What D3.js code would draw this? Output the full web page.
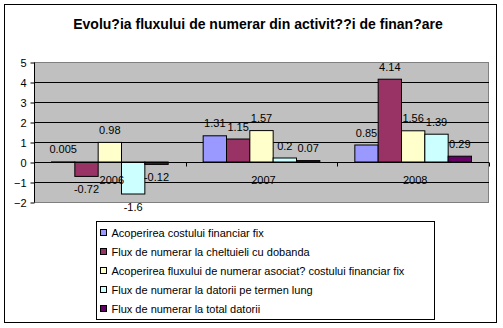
<!DOCTYPE html>
<html>
<head>
<meta charset="utf-8">
<script src="https://cdn.jsdelivr.net/npm/d3@7"></script>
<style>
  html, body { margin: 0; padding: 0; background: #ffffff; }
  svg { display: block; font-family: Arial, "Liberation Sans", sans-serif; }
</style>
</head>
<body>
<svg id="chart" width="503" height="328"></svg>
<script>
// Chart data
const years = ["2006", "2007", "2008"];
const seriesNames = [
  "Acoperirea costului financiar fix",
  "Flux de numerar la cheltuieli cu dobanda",
  "Acoperirea fluxului de numerar asociat? costului financiar fix",
  "Flux de numerar la datorii pe termen lung",
  "Flux de numerar la total datorii"
];
const acoperireCost = [0.005, 1.31, 0.85];
const fluxDobanda = [-0.72, 1.15, 4.14];
const acoperireFlux = [0.98, 1.57, 1.56];
const fluxTermenLung = [-1.6, 0.2, 1.39];
const fluxTotal = [-0.12, 0.07, 0.29];
const seriesColors = ["#9999FF", "#993366", "#FFFFCC", "#CCFFFF", "#660066"];
const yTicks = [-2, -1, 0, 1, 2, 3, 4, 5];
const chartTitle = "Evolu?ia fluxului de numerar din activit??i de finan?are";

const seriesValues = [acoperireCost, fluxDobanda, acoperireFlux, fluxTermenLung, fluxTotal];

const svg = d3.select("#chart");

// Outer chart frame
svg.append("rect")
  .attr("x", 4.5).attr("y", 4.5)
  .attr("width", 492).attr("height", 318)
  .attr("fill", "#ffffff").attr("stroke", "#000000").attr("stroke-width", 1);

// Title
svg.append("text")
  .attr("x", 258).attr("y", 29)
  .attr("text-anchor", "middle")
  .attr("font-size", 14).attr("font-weight", "bold")
  .text(chartTitle);

// Plot area
const plot = { left: 34, right: 489, top: 62, bottom: 202 };

const y = d3.scaleLinear().domain([-2, 5]).range([plot.bottom, plot.top]);
const x0 = d3.scaleBand().domain(years).range([plot.left, plot.right]).paddingInner(0).paddingOuter(0);
// Gap of 150% of a bar width split around each group of five bars
const groupW = x0.bandwidth();
const barW = groupW / 6.5;
const x1 = d3.scaleBand().domain(d3.range(seriesNames.length))
  .range([0.75 * barW, groupW - 0.75 * barW]).padding(0);

svg.append("rect")
  .attr("x", plot.left + 0.5).attr("y", plot.top + 0.5)
  .attr("width", plot.right - plot.left - 1).attr("height", plot.bottom - plot.top)
  .attr("fill", "#C0C0C0").attr("stroke", "#808080").attr("stroke-width", 1);

// Horizontal gridlines
svg.append("g")
  .selectAll("line")
  .data(yTicks.filter(t => t > -2 && t < 5))
  .join("line")
  .attr("x1", plot.left).attr("x2", plot.right)
  .attr("y1", d => Math.round(y(d)) + 0.5).attr("y2", d => Math.round(y(d)) + 0.5)
  .attr("stroke", "#000000").attr("stroke-width", 1);

// Value axis
const yAxis = svg.append("g")
  .attr("transform", `translate(${plot.left + 0.5},0.5)`)
  .call(d3.axisLeft(y).tickValues(yTicks).tickSize(4).tickPadding(4).tickFormat(d3.format("d")));
yAxis.select(".domain").attr("stroke", "#000000").attr("d", `M0,${plot.top}V${plot.bottom}`);
yAxis.selectAll(".tick line").attr("stroke", "#000000");
yAxis.selectAll(".tick text").attr("font-size", 11).attr("font-family", "Arial, 'Liberation Sans', sans-serif").attr("fill", "#000000");

// Bars
const groups = svg.append("g")
  .selectAll("g")
  .data(years)
  .join("g")
  .attr("transform", d => `translate(${x0(d)},0)`);

groups.selectAll("rect")
  .data((d, i) => seriesValues.map((vals, s) => ({ s, v: vals[i] })))
  .join("rect")
  .attr("x", d => x1(d.s))
  .attr("width", x1.bandwidth())
  .attr("y", d => y(Math.max(0, d.v)))
  .attr("height", d => Math.abs(y(d.v) - y(0)))
  .attr("fill", d => seriesColors[d.s])
  .attr("stroke", "#000000").attr("stroke-width", 1);

// Category axis along zero
const xAxis = svg.append("g")
  .attr("transform", `translate(0,${Math.round(y(0)) + 0.5})`);
xAxis.append("line")
  .attr("x1", plot.left).attr("x2", plot.right)
  .attr("stroke", "#000000");
xAxis.selectAll("line.tk")
  .data(years.map(d => x0(d)).concat([plot.right - 0.5]))
  .join("line")
  .attr("class", "tk")
  .attr("x1", d => Math.round(d) + 0.5).attr("x2", d => Math.round(d) + 0.5)
  .attr("y1", 0).attr("y2", 4)
  .attr("stroke", "#000000");

// Value labels
groups.selectAll("text.val")
  .data((d, i) => seriesValues.map((vals, s) => ({ s, v: vals[i] })))
  .join("text")
  .attr("class", "val")
  .attr("x", d => x1(d.s) + x1.bandwidth() / 2)
  .attr("y", d => d.v >= 0 ? y(d.v) - 8.5 : y(d.v) + 16.5)
  .attr("text-anchor", "middle")
  .attr("font-size", 11)
  .text(d => String(d.v));

// Category labels
xAxis.selectAll("text")
  .data(years)
  .join("text")
  .attr("x", d => x0(d) + groupW / 2 + 2)
  .attr("y", 21)
  .attr("text-anchor", "middle")
  .attr("font-size", 11)
  .text(d => d);

// Legend
const legend = svg.append("g");
legend.append("rect")
  .attr("x", 96.5).attr("y", 221.5)
  .attr("width", 338).attr("height", 98)
  .attr("fill", "#ffffff").attr("stroke", "#000000");

const items = legend.selectAll("g.item")
  .data(seriesNames)
  .join("g")
  .attr("class", "item")
  .attr("transform", (d, i) => `translate(0,${233 + i * 19})`);
items.append("rect")
  .attr("x", 100.5).attr("y", -3.5)
  .attr("width", 6).attr("height", 6)
  .attr("fill", (d, i) => seriesColors[i])
  .attr("stroke", "#000000");
items.append("text")
  .attr("x", 111.5).attr("y", 4)
  .attr("font-size", 11)
  .text(d => d);
</script>
</body>
</html>
